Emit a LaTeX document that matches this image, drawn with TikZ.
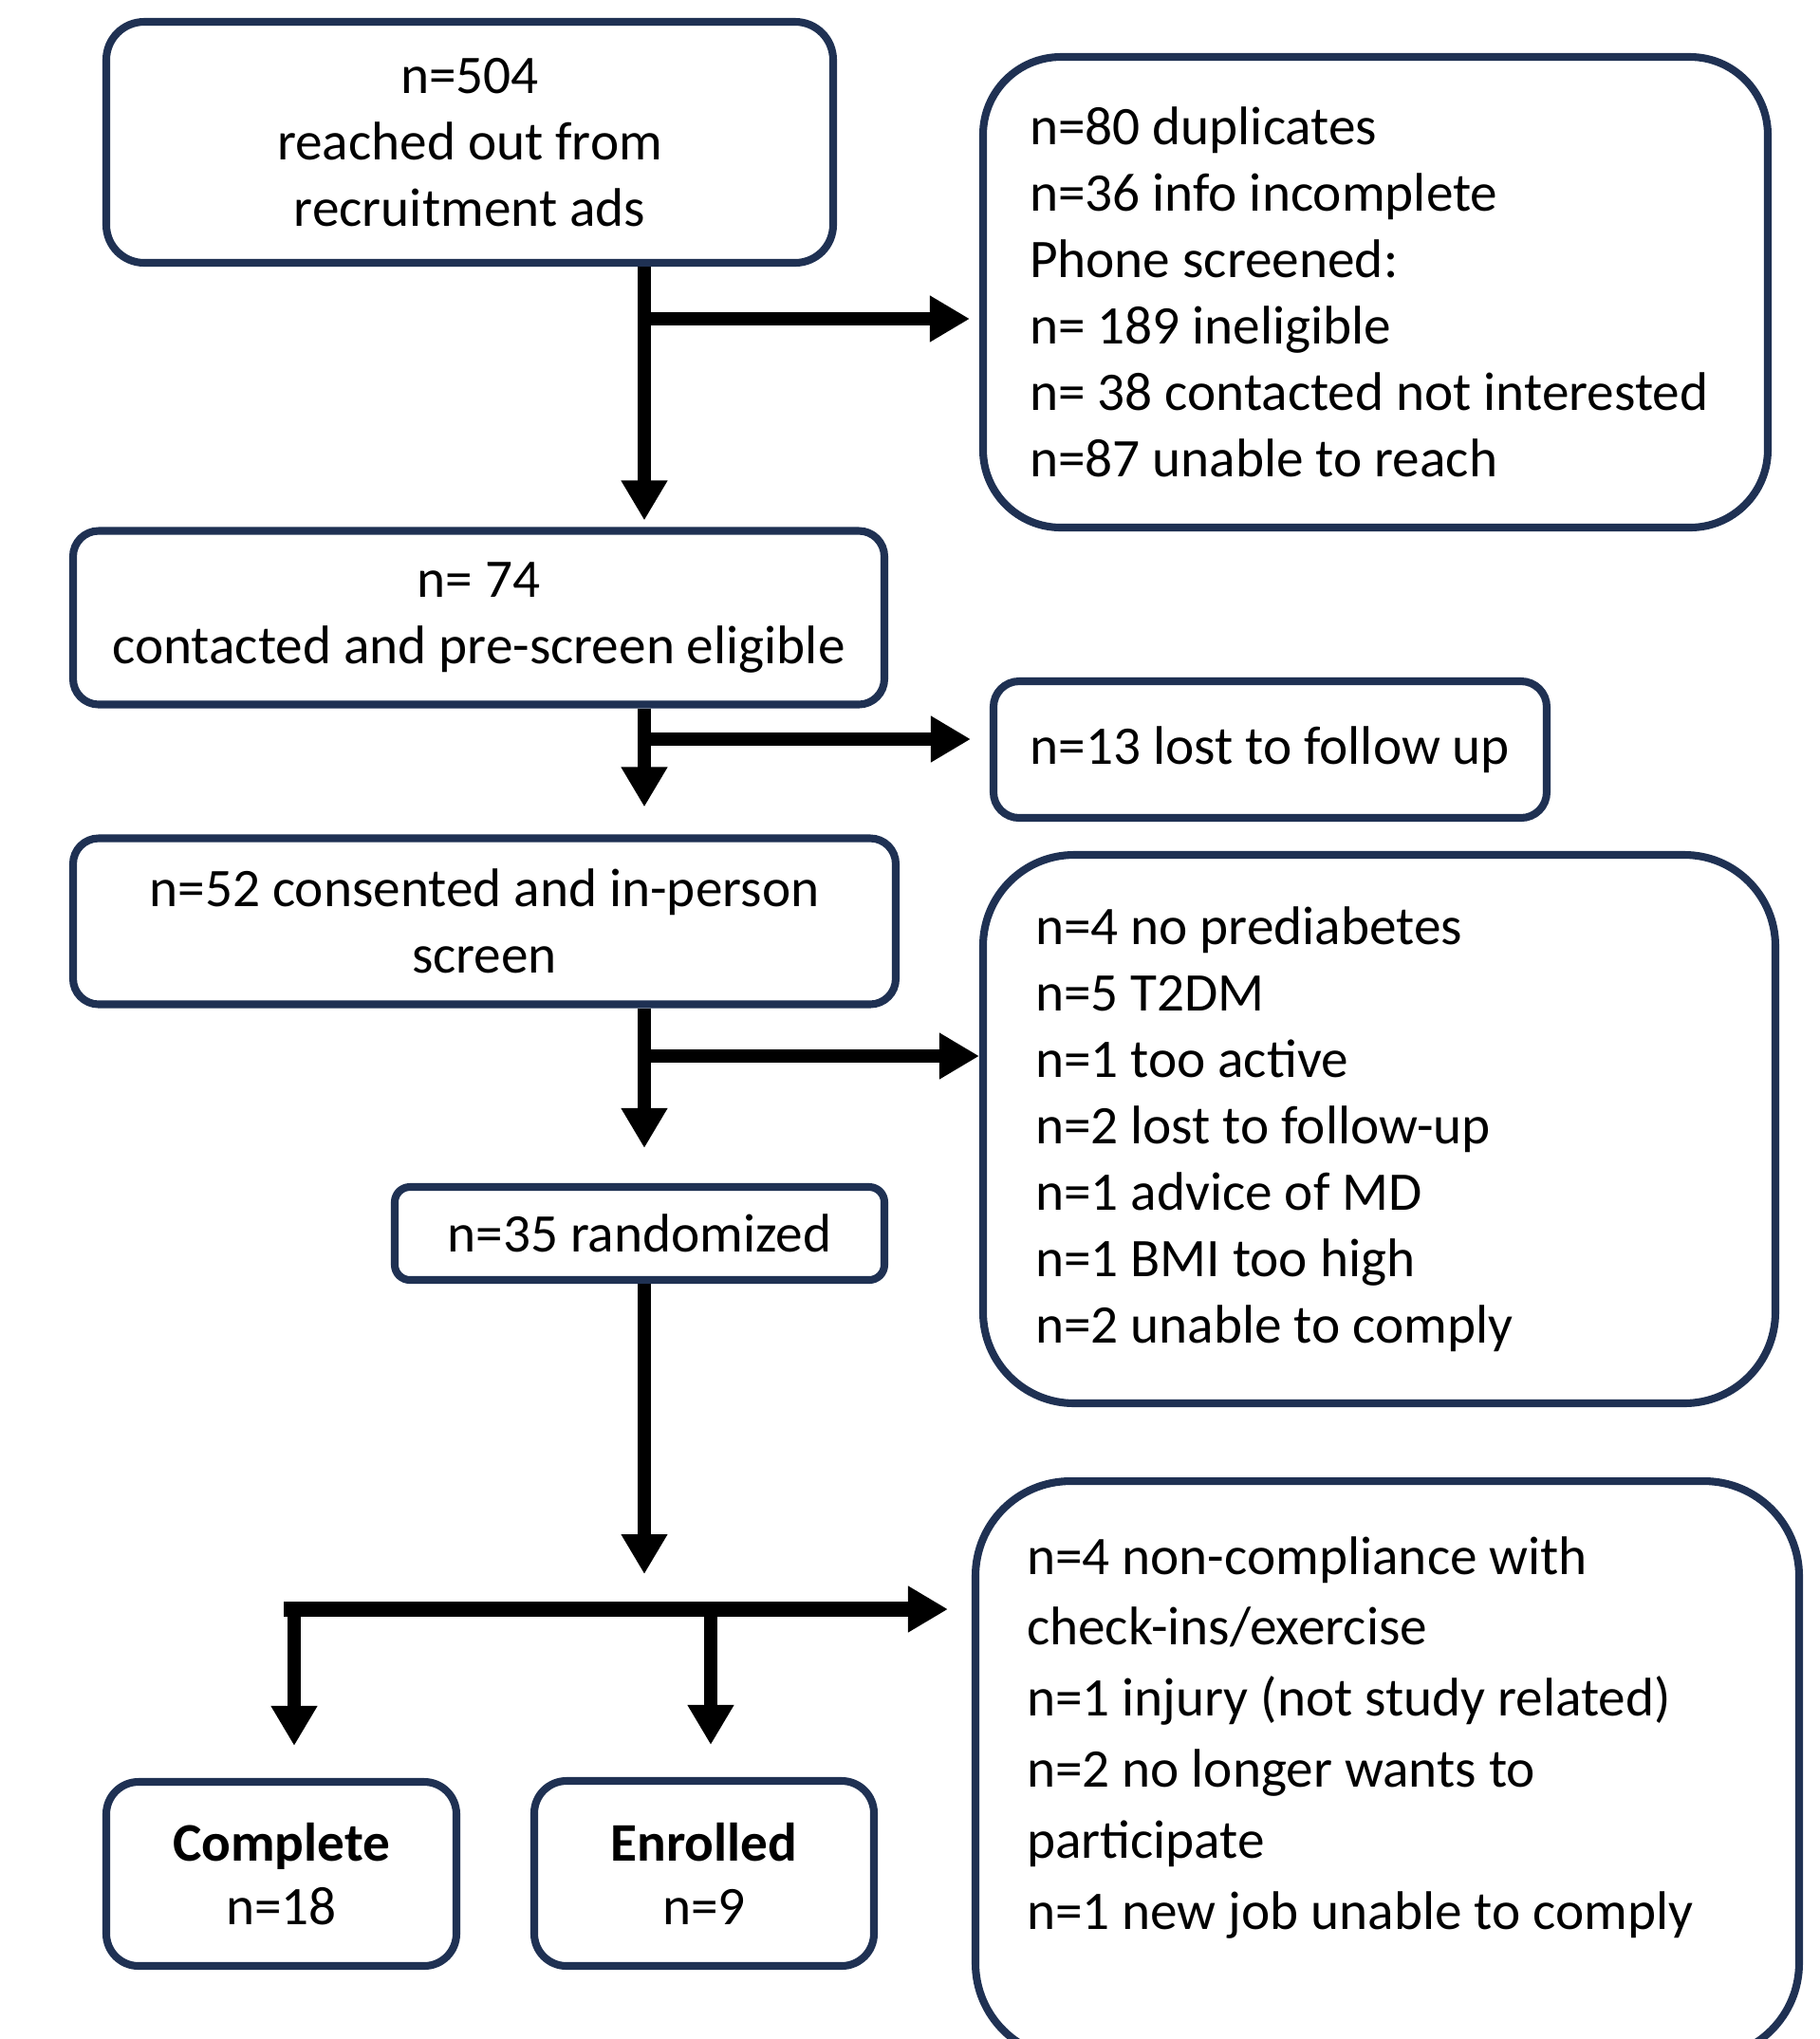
\documentclass[tikz,border=0pt]{standalone}
\usepackage{fontspec}
\setmainfont{Carlito}
\usetikzlibrary{arrows.meta}
\definecolor{boxnavy}{HTML}{1F3153}
\tikzset{
    box/.style={draw=boxnavy, line width=2.3pt, align=center, font=\fontsize{16.3}{19.9}\selectfont},
    sidebox/.style={box, align=flush left},
    flow/.style={line width=4pt, -{Triangle[length=0.42cm,width=0.46cm]}},
}
\begin{document}
\begin{tikzpicture}
    \useasboundingbox (0,0) rectangle (19.18,-21.49);
    % Draw boxes down the left side
    \node[box, rounded corners=0.4cm, minimum width=7.66cm, minimum height=2.54cm] (reached) at (4.95,-1.50) {n=504\\reached out from\\recruitment ads};
    \node[box, rounded corners=0.27cm, minimum width=8.55cm, minimum height=1.83cm] (eligible) at (5.045,-6.51) {n= 74\\contacted and pre-screen eligible};
    \node[box, rounded corners=0.27cm, minimum width=8.67cm, minimum height=1.75cm] (consented) at (5.105,-9.71) {n=52 consented and in-person\\screen};
    \node[box, rounded corners=0.16cm, minimum width=5.16cm, minimum height=0.98cm] (randomized) at (6.74,-13.0) {n=35 randomized};
    \node[box, rounded corners=0.34cm, minimum width=3.69cm, minimum height=1.94cm, font=\fontsize{16.3}{19}\selectfont] (complete) at (2.965,-19.75) {\textbf{Complete}\\n=18};
    \node[box, rounded corners=0.34cm, minimum width=3.58cm, minimum height=1.95cm, font=\fontsize{16.3}{19}\selectfont] (enrolled) at (7.42,-19.745) {\textbf{Enrolled}\\n=9};
    % Draw boxes down the right side
    \node[sidebox, rounded corners=0.82cm, text width=7.29cm, inner xsep=0.49cm, minimum height=4.96cm] (excluded) at (14.495,-3.08) {n=80 duplicates\\n=36 info incomplete\\Phone screened:\\n= 189 ineligible\\n= 38 contacted not interested\\n=87 unable to reach};
    \node[box, rounded corners=0.27cm, minimum width=5.83cm, minimum height=1.44cm] (lost) at (13.385,-7.9) {n=13 lost to follow up};
    \node[sidebox, rounded corners=0.96cm, text width=7.25cm, inner xsep=0.55cm, minimum height=5.78cm] (screenout) at (14.535,-11.9) {n=4 no prediabetes\\n=5 T2DM\\n=1 too active\\n=2 lost to follow-up\\n=1 advice of MD\\n=1 BMI too high\\n=2 unable to comply};
    \node[sidebox, rounded corners=1cm, text width=7.6cm, inner xsep=0.54cm, inner ysep=0.2cm, text height=0.78cm, text depth=4.9cm, anchor=north, font=\fontsize{16.3}{21.3}\selectfont] (dropout) at (14.62,-15.57) {n=4 non-compliance with\\check-ins/exercise\\n=1 injury (not study related)\\n=2 no longer wants to\\participate\\n=1 new job unable to comply};
    % Draw the main line with its branches
    \coordinate (trunk) at (6.79,0);
    \coordinate (split1) at (6.79,-3.36);
    \coordinate (split2) at (6.79,-7.79);
    \coordinate (split3) at (6.79,-11.13);
    \coordinate (gather) at (6.79,-16.59);
    \draw[flow, shorten >=0.07cm] (trunk |- reached.south) -- (trunk |- eligible.north);
    \draw[flow, shorten >=0.1cm] (split1) -- (split1 -| excluded.west);
    \draw[flow, shorten >=0.29cm] (trunk |- eligible.south) -- (trunk |- consented.north);
    \draw[flow, shorten >=0.2cm] (split2) -- (split2 -| lost.west);
    \draw[flow, shorten >=0.37cm] (trunk |- consented.south) -- (trunk |- randomized.north);
    \draw[flow] (split3) -- (split3 -| screenout.west);
    \draw[flow] (trunk |- randomized.south) -- (gather);
    % Draw the bottom split
    \coordinate (bar) at (2.99,-16.96);
    \coordinate (drop1) at (3.10,-16.96);
    \coordinate (drop2) at (7.49,-16.96);
    \draw[flow, line width=4.8pt, shorten >=0.25cm] (bar) -- (bar -| dropout.west);
    \draw[flow, shorten >=0.34cm] (drop1) -- (drop1 |- complete.north);
    \draw[flow, shorten >=0.34cm] (drop2) -- (drop2 |- enrolled.north);
\end{tikzpicture}
\end{document}
